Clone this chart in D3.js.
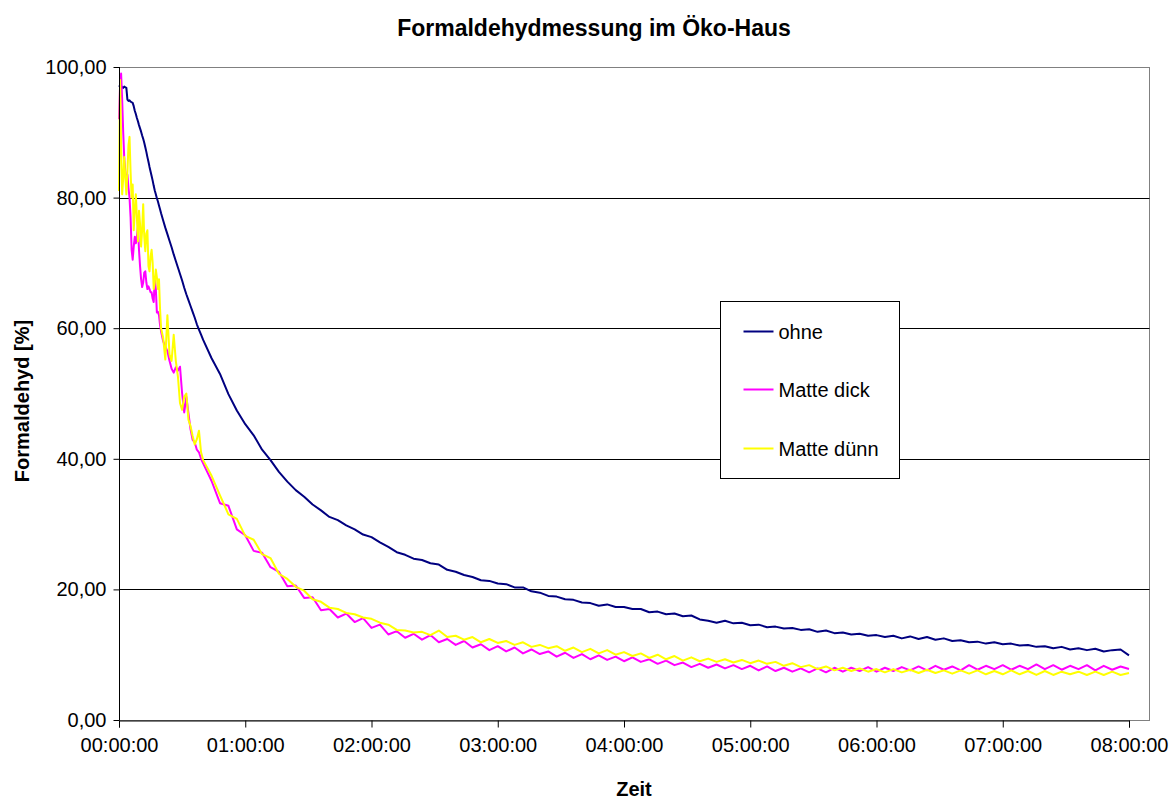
<!DOCTYPE html>
<html>
<head>
<meta charset="utf-8">
<script src="https://cdn.jsdelivr.net/npm/d3@7"></script>
<style>
  html, body { margin: 0; padding: 0; background: #fff; }
  svg { display: block; font-family: "Liberation Sans", Arial, sans-serif; }
</style>
</head>
<body>
<svg id="chart" width="1175" height="800"></svg>
<script>
// ---- Data ----
const title = "Formaldehydmessung im Öko-Haus";
const yTitle = "Formaldehyd [%]";
const xTitle = "Zeit";
const seriesNames = ["ohne", "Matte dick", "Matte dünn"];
const seriesColors = ["#000080", "#FF00FF", "#FFFF00"];
const yTicks = [0, 20, 40, 60, 80, 100];
const xTickLabels = ["00:00:00","01:00:00","02:00:00","03:00:00","04:00:00","05:00:00","06:00:00","07:00:00","08:00:00"];

// sampling grid in minutes (denser at the start where the curves oscillate)
const minutes = [...d3.range(0, 20, 0.5), ...d3.range(20, 40, 1), ...d3.range(40, 481, 4)];

const ohne = [
  97.2,97.0,97.1,96.9,96.8,97.0,96.9,96.8,95.0,94.8,94.9,94.7,94.6,94.5,94.0,93.3,92.8,92.2,91.7,91.1,
  90.6,90.1,89.5,89.0,88.4,87.7,87.0,86.2,85.5,84.7,84.0,83.3,82.6,81.8,81.1,80.5,79.9,79.4,78.8,78.2,
  77.6,76.5,75.4,74.4,73.4,72.4,71.3,70.3,69.3,68.3,67.3,66.2,65.2,64.3,63.4,62.5,61.6,60.6,59.8,59.0,
  58.2,55.4,53.0,49.9,47.4,45.3,43.6,41.4,39.8,38.0,36.5,35.2,34.2,33.0,32.1,31.1,30.6,29.8,29.2,28.4,
  28.0,27.2,26.5,25.7,25.3,24.7,24.5,24.0,23.8,23.0,22.7,22.2,21.9,21.4,21.3,20.9,20.8,20.3,20.3,19.7,
  19.5,19.0,18.9,18.5,18.4,18.0,17.9,17.5,17.7,17.3,17.3,17.0,17.0,16.5,16.6,16.2,16.3,15.9,16.0,15.4,
  15.2,14.9,15.2,14.8,14.9,14.5,14.6,14.2,14.3,14.0,14.1,13.8,13.9,13.5,13.7,13.3,13.4,13.1,13.2,12.9,
  13.0,12.7,12.9,12.5,12.8,12.4,12.7,12.3,12.5,12.1,12.2,11.9,12.0,11.7,11.9,11.6,11.7,11.4,11.5,11.2,
  11.3,11.0,11.2,10.8,11.0,10.7,10.9,10.5,10.7,10.8,9.9
];

const matteDick = [
  92,97,99,95,90,86,84,83,83.5,81.5,80,77,72,70.5,72.5,74,73,74,75.5,72,
  69.5,67.5,66.3,67,68.5,68.7,67,66,66.4,66,65.5,65.5,64.5,64,67.8,66,62.4,62.5,62,60.5,
  59.5,58,57.2,56.5,55,53.8,53.2,54,53.5,54.1,50,47.1,49.5,47,44.5,42.9,42.5,41.4,41,40,
  39.3,36.6,33.2,32.8,29.2,28.3,25.9,25.6,23.4,22.7,20.5,20.6,18.7,18.8,16.8,17.0,15.7,16.3,15.0,15.6,
  14.1,14.6,13.1,13.6,12.6,13.2,12.3,13.0,11.9,12.4,11.5,12.1,11.1,11.6,10.7,11.3,10.5,11.1,10.2,10.8,
  10.1,10.5,9.7,10.3,9.5,10.1,9.3,9.9,9.2,9.7,9.0,9.6,8.9,9.3,8.6,9.1,8.4,8.8,8.1,8.6,
  8.0,8.5,7.9,8.4,7.8,8.3,7.6,8.2,7.5,8.0,7.4,7.9,7.3,7.9,7.3,8.0,7.4,8.0,7.5,8.1,
  7.4,8.0,7.5,8.1,7.6,8.2,7.6,8.3,7.7,8.2,7.6,8.4,7.7,8.3,7.8,8.4,7.7,8.3,7.8,8.5,
  7.8,8.4,7.7,8.3,7.8,8.4,7.6,8.3,7.7,8.2,7.8
];

const matteDuenn = [
  81,98,88,80.5,83,86.2,83,80.5,84,88,89.3,84,80,82,75,78,80.5,77,73.3,78,
  76,72.5,75,79,74,71.8,74.5,75,69.5,68.7,71,72,70,66,67,69,67.8,66,67.5,63,
  60,58.5,55.2,62,56,55,59,55,52.6,48.5,47.5,49.5,50,46,45,43.5,42.2,43,44.3,41,
  39.8,37.4,34.4,31.5,30.8,28.2,27.6,25.4,24.8,22.4,21.6,20.4,19.8,18.5,18.1,17.2,17.0,16.4,16.2,15.7,
  15.5,14.9,14.6,13.8,13.7,13.4,13.5,13.0,13.7,12.7,12.9,12.3,12.7,11.9,12.4,11.8,12.1,11.5,11.9,11.2,
  11.5,11.0,11.3,10.6,11.1,10.4,10.9,10.2,10.7,10.0,10.4,9.8,10.2,9.5,10.0,9.3,9.8,9.1,9.6,9.0,
  9.4,8.9,9.3,8.8,9.2,8.7,9.1,8.6,8.9,8.3,8.7,8.1,8.4,7.8,8.2,7.6,8.0,7.5,7.9,7.4,
  7.8,7.3,7.8,7.3,7.7,7.2,7.7,7.2,7.6,7.1,7.6,7.1,7.6,7.0,7.5,7.0,7.6,7.0,7.5,6.9,
  7.5,6.9,7.4,7.0,7.4,6.9,7.4,6.9,7.4,6.9,7.2
];

const seriesValues = [ohne, matteDick, matteDuenn];

// ---- Layout ----
const svg = d3.select("#chart");
const plot = { left: 119, right: 1129, frameRight: 1149, top: 67, bottom: 720 };

const x = d3.scaleLinear().domain([0, 480]).range([plot.left, plot.right]);
const y = d3.scaleLinear().domain([0, 100]).range([plot.bottom, plot.top]);

// frame (top & right in gray)
svg.append("rect")
  .attr("x", plot.left + 0.5).attr("y", plot.top + 0.5)
  .attr("width", plot.frameRight - plot.left).attr("height", plot.bottom - plot.top)
  .attr("fill", "#fff").attr("stroke", "#808080").attr("stroke-width", 1);

// gridlines
svg.append("g").selectAll("line")
  .data(yTicks.filter(d => d > 0 && d < 100))
  .join("line")
  .attr("x1", plot.left).attr("x2", plot.frameRight + 0.5)
  .attr("y1", d => Math.round(y(d)) + 0.5).attr("y2", d => Math.round(y(d)) + 0.5)
  .attr("stroke", "#000").attr("stroke-width", 1);

// series lines
const line = d3.line()
  .x((d, i) => x(minutes[i]))
  .y(d => y(d));

seriesValues.forEach((vals, k) => {
  svg.append("path")
    .datum(vals)
    .attr("d", line)
    .attr("fill", "none")
    .attr("stroke", seriesColors[k])
    .attr("stroke-width", 2)
    .attr("stroke-linejoin", "round");
});

// y axis
const yAxis = d3.axisLeft(y)
  .tickValues(yTicks)
  .tickSize(6)
  .tickPadding(7)
  .tickFormat(d => d3.format(".2f")(d).replace(".", ","));
const gy = svg.append("g").attr("transform", `translate(${plot.left + 0.5},0)`).call(yAxis);

// x axis
const hourMinutes = d3.range(0, 481, 60);
const xAxis = d3.axisBottom(x)
  .tickValues(hourMinutes)
  .tickSize(7)
  .tickPadding(10)
  .tickFormat((d, i) => xTickLabels[i]);
const gx = svg.append("g").attr("transform", `translate(0,${plot.bottom + 0.5})`).call(xAxis);

[gx, gy].forEach(g => {
  g.select(".domain").attr("stroke", "#000");
  g.selectAll(".tick line").attr("stroke", "#000");
  g.selectAll("text").attr("fill", "#000")
    .style("font-family", '"Liberation Sans", Arial, sans-serif')
    .style("font-size", "20px");
});
gy.select(".domain").attr("d", `M0,${plot.top}V${plot.bottom}`);

// titles
svg.append("text")
  .attr("x", 594).attr("y", 36)
  .attr("text-anchor", "middle")
  .style("font-weight", "bold").style("font-size", "23px")
  .text(title);

svg.append("text")
  .attr("transform", `translate(29,${401}) rotate(-90)`)
  .attr("text-anchor", "middle")
  .style("font-weight", "bold").style("font-size", "20px")
  .text(yTitle);

svg.append("text")
  .attr("x", (plot.left + plot.frameRight) / 2).attr("y", 796)
  .attr("text-anchor", "middle")
  .style("font-weight", "bold").style("font-size", "20px")
  .text(xTitle);

// legend
const legend = svg.append("g").attr("transform", "translate(720.5,301.5)");
legend.append("rect")
  .attr("width", 179).attr("height", 177)
  .attr("fill", "#fff").attr("stroke", "#000").attr("stroke-width", 1);
const legendY = [30, 88, 147];
seriesNames.forEach((name, k) => {
  legend.append("line")
    .attr("x1", 23).attr("x2", 53)
    .attr("y1", legendY[k]).attr("y2", legendY[k])
    .attr("stroke", seriesColors[k]).attr("stroke-width", 2);
  legend.append("text")
    .attr("x", 58).attr("y", legendY[k])
    .attr("dy", "0.35em")
    .style("font-size", "20px")
    .text(name);
});
</script>
</body>
</html>
